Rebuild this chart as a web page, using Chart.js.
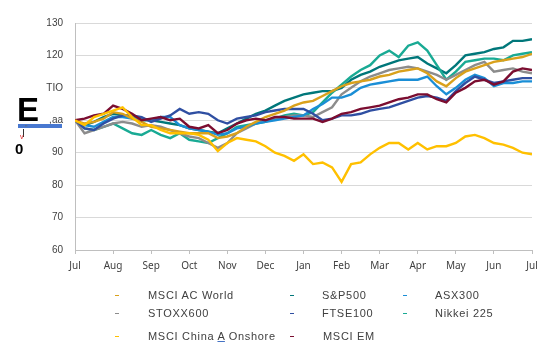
<!DOCTYPE html>
<html><head><meta charset="utf-8">
<script src="https://cdn.jsdelivr.net/npm/chart.js@4"></script>
<style>
html,body{margin:0;padding:0;background:#fff;}
#wrap{position:relative;width:547px;height:354px;overflow:hidden;background:#fff;}
#c{position:absolute;left:0;top:0;}
.lg{position:absolute;font-family:"Liberation Sans",Arial,sans-serif;font-size:11px;color:#404040;letter-spacing:0.7px;white-space:nowrap;line-height:12px;}
.mk{position:absolute;width:4px;height:1.6px;}
.ab{position:absolute;font-family:"Liberation Sans",Arial,sans-serif;font-weight:bold;color:#000;white-space:nowrap;}
</style></head>
<body><div id="wrap"><canvas id="c" width="547" height="354"></canvas>
<div class="ab" style="left:17px;top:93px;font-size:33px;line-height:33px;">E</div>
<div style="position:absolute;left:18px;top:124px;width:44px;height:4px;background:#4878d0;"></div>
<div style="position:absolute;left:25px;top:124px;font-family:'Liberation Sans',Arial;font-size:7px;color:#666;line-height:7px;">"</div>
<div style="position:absolute;left:22.5px;top:129px;width:1.5px;height:8px;background:#333;"></div>
<div style="position:absolute;left:20px;top:133px;font-family:'Liberation Sans',Arial;font-size:7px;color:#e02020;line-height:7px;">v</div>
<div class="ab" style="left:15px;top:141px;font-size:15px;line-height:15px;">0</div>
</div>
<script>
const monthLabels = ['Jul','Aug','Sep','Oct','Nov','Dec','Jan','Feb','Mar','Apr','May','Jun','Jul'];
const yTickLabels = ['60','70','80','90',',aa','TIO','120','130'];
const seriesNames = ['MSCI AC World','S&P500','ASX300','STOXX600','FTSE100','Nikkei 225','MSCI China A Onshore','MSCI EM'];

const msciACWorld = [100,99,99.5,100.5,102.5,102,100.5,99.5,98,97.5,97,96.5,96,96,96,94.5,95,96,98,99.5,101,102,103,104.5,105.5,106,107.5,109,110.5,111.5,112,112.5,113.5,114,115,115.5,116,114.5,112,110.5,113,115,116,117,118,118.5,119,119.5,120.5];
const sp500 = [100,98.5,99.5,101,102,101.5,101,100,100,99.5,99,98.5,97.5,97,96.5,96,97.5,99,100.5,102,103,104.5,106,107,108,108.5,109,109,110,112.5,114,115,116.5,117.5,118.5,119,119.5,117.5,116,114.5,117,120,120.5,121,122,122.5,124.5,124.5,125];
const asx300 = [100,98.5,98,99.5,101,101,100.5,100.5,100,101,101,98.5,97.5,97,96.5,95.5,96,97.5,98,99,99.5,100,100.5,101,101.5,103.5,105,107,107,108,110,111,111.5,112,112.5,112.5,112.5,113.5,110.5,108,110,112.5,114,113,110.5,111.5,111.5,112,112];
const stoxx600 = [100,96,97,98,99,99.5,99,98,98.5,98,97,96,95,94.5,93,91.5,93,96,97.5,99,100,100.5,101,101.5,101.5,101,102.5,104,108,110,112,113.5,114.5,115.5,116,116.5,116,115,114,112.5,114,115.5,117,118,115,115.5,116,115,114.5];
const ftse100 = [100,97.5,97,99,100.5,101.5,101.5,101,99.5,100.5,101.5,103.5,102,102.5,102,100,99,100.5,101,101.5,102.5,103,103.5,103.5,103.5,102,100,100.5,101.5,101.5,102,103,103.5,104,105,106,107,107.5,107,106,109,111.5,113.5,112.5,111.5,112,112.5,113,113];
const nikkei225 = [100,97.5,97,98,99,97.5,96,95.5,97,95.5,94.5,96,94,93.5,93,94.5,96,98,98.5,99,99.5,100.5,101.5,102,101.5,102.5,105.5,108.5,111,113.5,115.5,117,120,121.5,119.5,123,124,121.5,117,112.5,115,118,118.5,119,119,118.5,120,120.5,121];
const msciChinaA = [100,98.5,101,102,103,104,101,98.5,98.5,97,96,96,96,95.5,94,90.5,93,94.5,94,93.5,92,90,89,87.5,89.5,86.5,87,85.5,81,86.5,87,89.5,91.5,93,93,91,93,91,92,92,93,95,95.5,94.5,93,92.5,91.5,90,89.5];
const msciEM = [100,100.5,101.5,102,104.5,103.5,102,100,100.5,101,100,100.5,98,97.5,98.5,96,97,99,100,100.5,100,101,101,100.5,100.5,100.5,99.5,100.5,102,102.5,103.5,104,104.5,105.5,106.5,107,108,108,106.5,105.5,108.5,110,112,112.5,111,112,115,116,115.5];

const seriesValues = [msciACWorld, sp500, asx300, stoxx600, ftse100, nikkei225, msciChinaA, msciEM];
const seriesColors = ['#d9a11c','#00777a','#1a8ed6','#8c8c8c','#2f4fa2','#19aa94','#ffc000','#7b0d30'];
const drawOrder = [2,7,4,5,3,6,0,1];
const ptsPerMonth = 4;

const datasets = seriesNames.map((n,k)=>({
  label:n,
  data: seriesValues[k].map((v,i)=>({x:i,y:v})),
  borderColor: seriesColors[k],
  backgroundColor: seriesColors[k],
  borderWidth: 2.4,
  pointRadius: 0,
  tension: 0,
  fill: false,
  order: drawOrder[k]
}));

new Chart(document.getElementById('c'), {
  type:'line',
  data:{datasets},
  options:{
    responsive:false,
    animation:false,
    devicePixelRatio:1,
    layout:{padding:{left:0,right:15,top:23,bottom:74}},
    plugins:{legend:{display:false},tooltip:{enabled:false}},
    scales:{
      x:{
        type:'linear', min:0, max:(monthLabels.length-1)*ptsPerMonth,
        afterFit:(s)=>{s.height=30;},
        border:{display:true,color:'#bfbfbf',width:1},
        grid:{drawOnChartArea:false,drawTicks:true,tickLength:4,color:'#bfbfbf'},
        ticks:{stepSize:ptsPerMonth,autoSkip:false,maxRotation:0,padding:6,color:'#404040',
          font:{family:'Noto Sans',size:10},
          callback:(v)=> (v%ptsPerMonth===0 ? monthLabels[v/ptsPerMonth] : '')}
      },
      y:{
        min:60,max:130,
        afterFit:(s)=>{s.width=75;},
        border:{display:true,color:'#bfbfbf',width:1},
        grid:{drawTicks:false,color:'#d9d9d9',lineWidth:1},
        ticks:{stepSize:10,padding:12,color:'#404040',
          font:{family:'Liberation Sans',size:10},
          callback:(v)=> yTickLabels[Math.round((v-60)/10)]}
      }
    }
  }
});

// legend
const legendPos = [[115,148,295],[290,322,295],[403,435,295],[115,148,313],[290,322,313],[403,435,313],[115,148,336],[290,323,336]];
const wrap = document.getElementById('wrap');
seriesNames.forEach((n,k)=>{
  const [mx,tx,cy] = legendPos[k];
  const m = document.createElement('div');
  m.className='mk'; m.style.left=mx+'px'; m.style.top=(cy-0.5)+'px'; m.style.background=seriesColors[k];
  wrap.appendChild(m);
  const t = document.createElement('div');
  t.className='lg'; t.style.left=tx+'px'; t.style.top=(cy-6)+'px';
  if(n==='MSCI China A Onshore'){
    t.innerHTML='MSCI China <span style="text-decoration:underline;text-decoration-color:#4472c4;">A</span> Onshore';
  } else { t.textContent=n; }
  wrap.appendChild(t);
});
</script>
</body></html>
